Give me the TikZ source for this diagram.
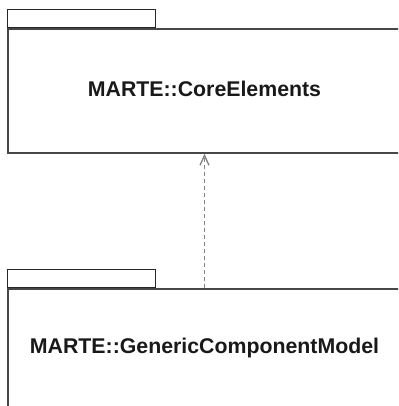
\documentclass[tikz,border=0pt]{standalone}
\usepackage{fontspec}
\setmainfont{Liberation Sans}
\usetikzlibrary{arrows.meta}
\begin{document}
\begin{tikzpicture}[x=1pt,y=-1pt,
  pkgbody/.style={draw=black!72, line width=1.7pt, fill=white, inner sep=0pt, anchor=north west},
  pkgtab/.style={draw=black!85, line width=1.4pt, inner sep=0pt, anchor=south west},
  pkgname/.style={font=\bfseries\fontsize{21.3}{25}\selectfont, text=black!90, inner sep=0pt},
  dep/.style={draw=black!50, line width=1.6pt, dash pattern=on 4.5pt off 2.5pt,
     -{Straight Barb[length=10pt,width=9pt,line width=1.3pt]}, shorten >=0pt}]
\useasboundingbox (0,0) rectangle (398,406);
\clip (0,0) rectangle (398,406);
\node[pkgtab, minimum width=148pt, minimum height=18pt] (coretab) at (7,28.5) {};
\node[pkgbody, minimum width=420pt, minimum height=123.5pt] (corebody) at (7,28.5) {};
\node[pkgname] (coretext) at (204.5,89) {MARTE::CoreElements};
\node[pkgtab, minimum width=148pt, minimum height=18pt] (gcmtab) at (7,288) {};
\node[pkgbody, minimum width=420pt, minimum height=140pt] (gcmbody) at (7,288) {};
\node[pkgname] (gcmtext) at (204.5,348) {MARTE::GenericComponentModel};
\draw[dep] (gcmbody.north -| coretext.center) -- (corebody.south -| coretext.center);
\end{tikzpicture}
\end{document}
